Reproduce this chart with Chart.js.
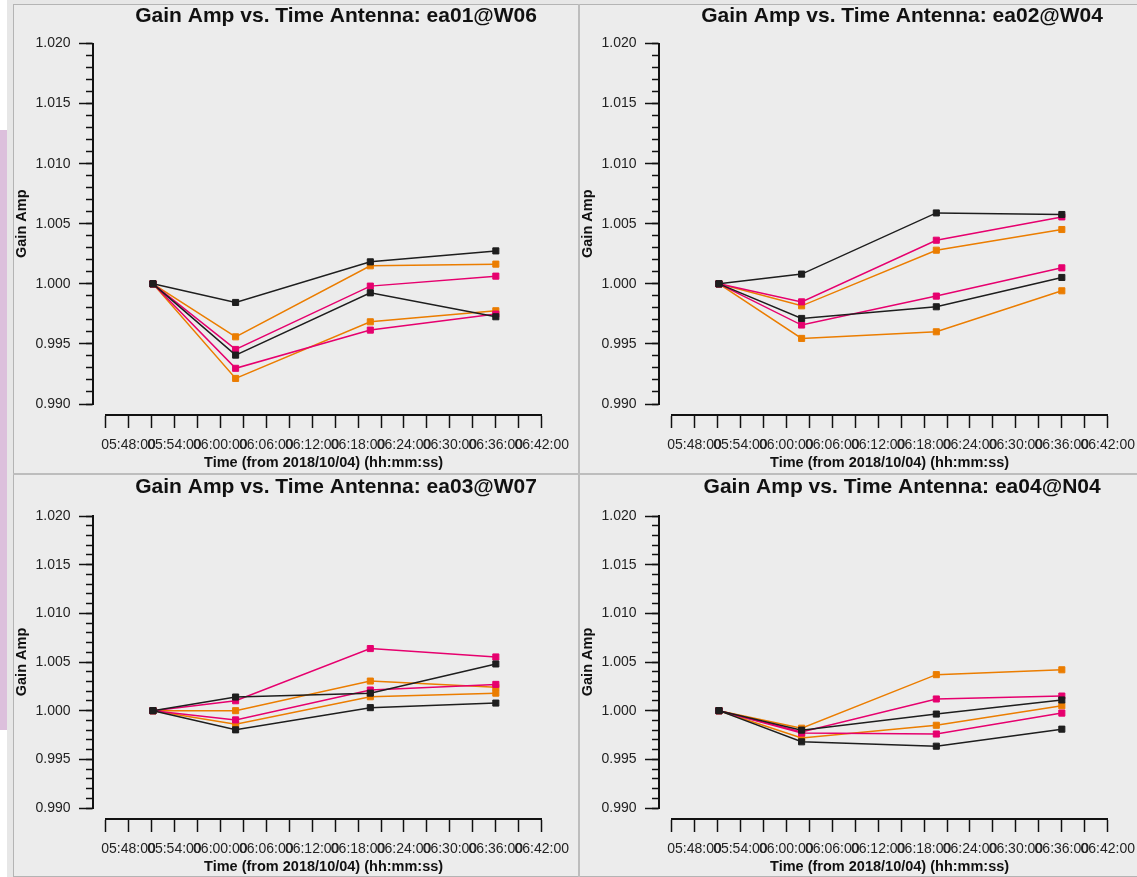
<!DOCTYPE html>
<html>
<head>
<meta charset="utf-8">
<script src="https://cdn.jsdelivr.net/npm/chart.js@4.4.1/dist/chart.umd.min.js"></script>
<style>
  html, body { margin: 0; padding: 0; }
  body { width: 1137px; height: 877px; overflow: hidden; position: relative; background: #fff; }
  .abs { position: absolute; }
  #frame { left: 7px; top: 0; width: 1130px; height: 877px; background: #e7e7e7; }
  #strip { left: 0; top: 130px; width: 7px; height: 600px; background: #dcc0dc; }
  #border { left: 13px; top: 4px; width: 1130px; height: 871px; border: 1px solid #b4b4b4; background: #ececec; }
  canvas { position: absolute; background: #ececec; }
  #vdiv { left: 578px; top: 4px; width: 2px; height: 873px; background: #bdbdbd; }
  #hdiv { left: 13px; top: 473px; width: 1130px; height: 2px; background: #bdbdbd; }
</style>
</head>
<body>
<div id="frame" class="abs"></div>
<div id="strip" class="abs"></div>
<div id="border" class="abs"></div>
<canvas id="ea01" width="564" height="468" style="left:14px; top:5px"></canvas>
<canvas id="ea02" width="564" height="468" style="left:580px; top:5px"></canvas>
<canvas id="ea03" width="564" height="401" style="left:14px; top:475px"></canvas>
<canvas id="ea04" width="564" height="401" style="left:580px; top:475px"></canvas>
<div id="vdiv" class="abs"></div>
<div id="hdiv" class="abs"></div>

<script>
// scan times (same four solutions for every antenna)
const scanTimes = ['05:51:12', '06:02:00', '06:19:36', '06:36:00']

// x axis runs 05:45:00 - 06:42:00, a tick every 3 minutes, a label every 6
const axisStart = '05:45:00'
const axisEnd = '06:42:00'
const timeTickLabels = ['05:48:00', '05:54:00', '06:00:00', '06:06:00', '06:12:00',
                        '06:18:00', '06:24:00', '06:30:00', '06:36:00', '06:42:00']

const antennas = ['ea01@W06', 'ea02@W04', 'ea03@W07', 'ea04@N04']

// gain amplitudes, two curves per colour
const ea01Black  = [[1.0, 0.99845, 1.00183, 1.00274], [1.0, 0.99407, 0.99925, 0.99726]]
const ea01Pink   = [[1.0, 0.99454, 0.99981, 1.00064], [1.0, 0.99297, 0.99615, 0.99748]]
const ea01Orange = [[1.0, 0.99559, 1.00150, 1.00164], [1.0, 0.99213, 0.99684, 0.99776]]

const ea02Black  = [[1.0, 1.00081, 1.00590, 1.00577], [1.0, 0.99712, 0.99809, 1.00053]]
const ea02Pink   = [[1.0, 0.99850, 1.00363, 1.00557], [1.0, 0.99657, 0.99898, 1.00133]]
const ea02Orange = [[1.0, 0.99817, 1.00280, 1.00452], [1.0, 0.99546, 0.99601, 0.99942]]

const ea03Black  = [[1.0, 1.00140, 1.00180, 1.00480], [1.0, 0.99803, 1.00031, 1.00078]]
const ea03Pink   = [[1.0, 1.00102, 1.00638, 1.00552], [1.0, 0.99905, 1.00212, 1.00270]]
const ea03Orange = [[1.0, 1.00000, 1.00304, 1.00240], [1.0, 0.99861, 1.00143, 1.00180]]

const ea04Black  = [[1.0, 0.99800, 0.99965, 1.00110], [1.0, 0.99680, 0.99635, 0.99810]]
const ea04Pink   = [[1.0, 0.99780, 1.00120, 1.00150], [1.0, 0.99770, 0.99760, 0.99975]]
const ea04Orange = [[1.0, 0.99820, 1.00370, 1.00420], [1.0, 0.99720, 0.99850, 1.00050]]

const colours = { black: '#1e1e1e', pink: '#e6006e', orange: '#eb7d00' }

Chart.defaults.font.family = '"Liberation Sans", Arial, Helvetica, sans-serif'
Chart.defaults.color = '#222'

const seconds = function(t) {
    const p = t.split(':').map(Number)
    return p[0] * 3600 + p[1] * 60 + p[2]
}

const series = function(values, colour, label) {
    return {
        label: label,
        data: values.map((v, i) => ({ x: seconds(scanTimes[i]), y: v })),
        borderColor: colour,
        backgroundColor: colour,
        borderWidth: 1.5,
        pointStyle: 'rect',
        pointRadius: 4.3,
        pointBorderWidth: 1,
        tension: 0
    }
}

// Qwt-style detached axes: y axis sits left of the data area, x axis below it
const detachAxes = {
    id: 'detachAxes',
    afterLayout(chart) {
        const area = chart.chartArea
        const x = chart.scales.x
        const h = x.height
        x.top = area.bottom + 11
        x.bottom = x.top + h
        for (const id of ['y', 'yMinor']) {
            const s = chart.scales[id]
            s.right = area.left - 12.5
            s.left = -1.2
            s.width = s.right - s.left
        }
        chart.titleBlock.left += 12.5
        chart.titleBlock.right += 12.5
    }
}

const tickGrid = function(len) {
    return {
        drawOnChartArea: false,
        drawTicks: true,
        tickLength: len,
        tickWidth: 1.5,
        tickColor: '#111',
        color: '#111'
    }
}

const makePanel = function(id, antenna, black, pink, orange, tall) {

    const datasets = [
        series(black[0], colours.black, 'black 1'),
        series(black[1], colours.black, 'black 2'),
        series(pink[0], colours.pink, 'pink 1'),
        series(pink[1], colours.pink, 'pink 2'),
        series(orange[0], colours.orange, 'orange 1'),
        series(orange[1], colours.orange, 'orange 2')
    ]

    const x0 = seconds(axisStart)

    return new Chart(document.getElementById(id), {
        type: 'line',
        data: { datasets: datasets },
        plugins: [detachAxes],
        options: {
            responsive: false,
            animation: false,
            devicePixelRatio: 1,
            layout: { padding: { left: 0, right: 34, top: 0, bottom: tall ? 9 : 8 } },
            plugins: {
                legend: { display: false },
                tooltip: { enabled: false },
                title: {
                    display: true,
                    fullSize: false,
                    text: 'Gain Amp vs. Time Antenna: ' + antenna,
                    color: '#111',
                    font: { size: 21, weight: 'bold' },
                    padding: tall ? { top: -1.1, bottom: 14.4 } : { top: -0.6, bottom: 16.4 }
                }
            },
            scales: {
                x: {
                    type: 'linear',
                    position: 'bottom',
                    min: x0,
                    max: seconds(axisEnd),
                    afterFit: (s) => { s.height = 60 },
                    border: { display: true, color: '#111', width: 2 },
                    grid: tickGrid(13),
                    ticks: {
                        stepSize: 180,
                        autoSkip: false,
                        maxRotation: 0,
                        minRotation: 0,
                        padding: 9,
                        color: '#222',
                        font: { size: 14 },
                        callback: (v) => {
                            const i = Math.round((v - x0) / 180)
                            return i % 2 === 1 ? timeTickLabels[(i - 1) / 2] : ''
                        }
                    },
                    title: {
                        display: true,
                        text: 'Time (from 2018/10/04) (hh:mm:ss)',
                        color: '#111',
                        font: { size: 14.5, weight: 'bold' },
                        padding: { top: 0, bottom: 3.3 }
                    }
                },
                y: {
                    position: 'left',
                    min: 0.99,
                    max: 1.02,
                    afterFit: (s) => { s.width = 45.75 },
                    border: { display: true, color: '#111', width: 2 },
                    grid: tickGrid(14),
                    ticks: {
                        stepSize: 0.005,
                        padding: 8.5,
                        color: '#222',
                        font: { size: 14 },
                        callback: (v) => v.toFixed(3)
                    },
                    title: {
                        display: true,
                        text: 'Gain Amp',
                        color: '#111',
                        font: { size: 14.5, weight: 'bold' },
                        padding: { top: 0, bottom: 0 }
                    }
                },
                yMinor: {
                    position: 'left',
                    min: 0.99,
                    max: 1.02,
                    afterFit: (s) => { s.width = 45.75 },
                    border: { display: false },
                    grid: tickGrid(7),
                    ticks: { stepSize: 0.001, display: false }
                }
            }
        }
    })
}

makePanel('ea01', antennas[0], ea01Black, ea01Pink, ea01Orange, true)
makePanel('ea02', antennas[1], ea02Black, ea02Pink, ea02Orange, true)
makePanel('ea03', antennas[2], ea03Black, ea03Pink, ea03Orange, false)
makePanel('ea04', antennas[3], ea04Black, ea04Pink, ea04Orange, false)
</script>
</body>
</html>
